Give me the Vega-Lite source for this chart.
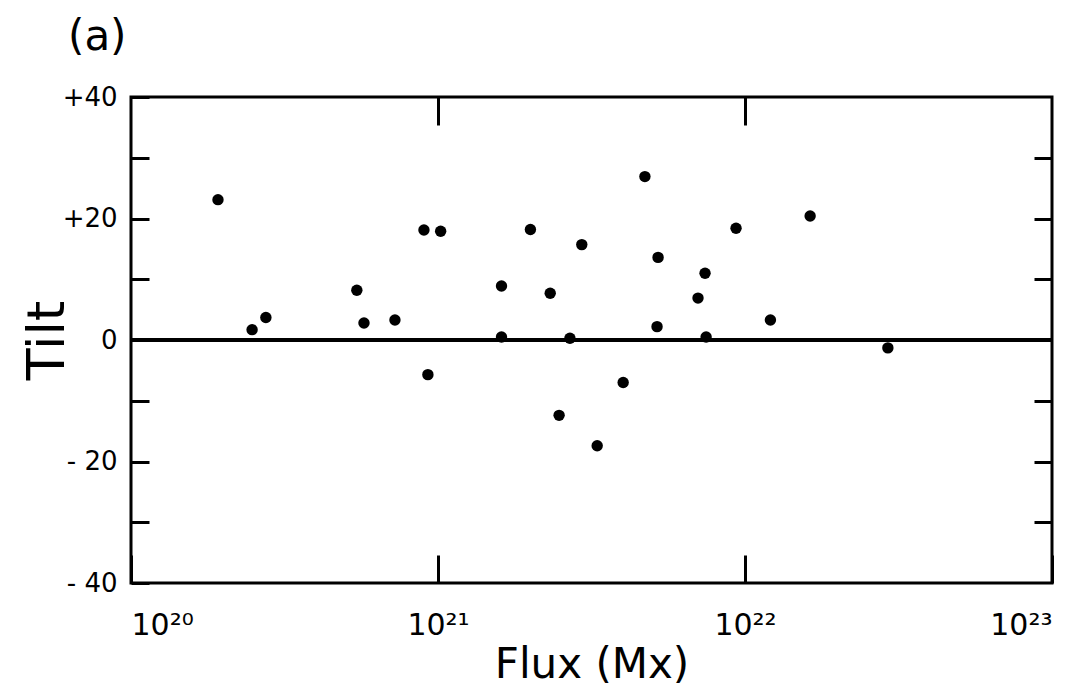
{
  "$schema": "https://vega.github.io/schema/vega-lite/v6.json",
  "width": 921,
  "height": 486,
  "autosize": "none",
  "padding": {"left": 131, "top": 97, "right": 40, "bottom": 109},
  "background": "white",
  "config": {
    "view": {"stroke": "black", "strokeWidth": 3},
    "font": "DejaVu Sans",
    "axis": {"grid": false, "domain": false, "tickColor": "black", "tickWidth": 3, "labelColor": "black", "titleColor": "black", "labelFont": "DejaVu Sans", "titleFont": "DejaVu Sans", "titleFontWeight": "normal"}
  },
  "title": {"text": "(a)", "anchor": "start", "frame": "group", "dx": -63, "dy": 14, "offset": 6, "fontSize": 42, "fontWeight": "normal", "color": "black", "baseline": "alphabetic", "font": "DejaVu Sans"},
  "data": {"values": [
    {"flux": 1.92e20, "tilt": 23.1},
    {"flux": 2.48e20, "tilt": 1.7},
    {"flux": 2.75e20, "tilt": 3.7},
    {"flux": 5.44e20, "tilt": 8.2},
    {"flux": 5.74e20, "tilt": 2.8},
    {"flux": 7.24e20, "tilt": 3.3},
    {"flux": 9.0e20, "tilt": 18.1},
    {"flux": 1.02e21, "tilt": 17.9},
    {"flux": 9.27e20, "tilt": -5.7},
    {"flux": 1.61e21, "tilt": 8.9},
    {"flux": 1.61e21, "tilt": 0.5},
    {"flux": 2.0e21, "tilt": 18.2},
    {"flux": 2.32e21, "tilt": 7.7},
    {"flux": 2.48e21, "tilt": -12.4},
    {"flux": 2.69e21, "tilt": 0.3},
    {"flux": 2.94e21, "tilt": 15.7},
    {"flux": 3.30e21, "tilt": -17.4},
    {"flux": 4.01e21, "tilt": -7.0},
    {"flux": 4.72e21, "tilt": 26.9},
    {"flux": 5.21e21, "tilt": 13.6},
    {"flux": 5.17e21, "tilt": 2.2},
    {"flux": 7.03e21, "tilt": 6.9},
    {"flux": 7.41e21, "tilt": 11.0},
    {"flux": 7.47e21, "tilt": 0.5},
    {"flux": 9.35e21, "tilt": 18.4},
    {"flux": 1.21e22, "tilt": 3.3},
    {"flux": 1.63e22, "tilt": 20.4},
    {"flux": 2.92e22, "tilt": -1.3}
  ]},
  "layer": [
    {
      "mark": {"type": "rule", "color": "black", "strokeWidth": 3},
      "encoding": {
        "x": {"datum": 1e20, "type": "quantitative", "scale": {"type": "log", "domain": [1e20, 1e23]},
              "axis": {"orient": "top", "values": [1e21, 1e22], "labels": false, "title": null, "tickSize": -28}},
        "x2": {"datum": 1e23},
        "y": {"datum": 0, "type": "quantitative", "scale": {"domain": [-40, 40]},
              "axis": {"orient": "right", "values": [-30, -20, -10, 10, 20, 30], "labels": false, "title": null, "tickSize": -18}}
      }
    },
    {
      "mark": {"type": "circle", "color": "black", "opacity": 1, "size": 130},
      "encoding": {
        "x": {"field": "flux", "type": "quantitative", "scale": {"type": "log", "domain": [1e20, 1e23]},
              "axis": {"orient": "bottom", "values": [1e20, 1e21, 1e22, 1e23], "tickSize": -28, "labelPadding": 55, "labelFontSize": 30,
                       "labelExpr": "datum.value < 5e20 ? '10²⁰' : datum.value < 5e21 ? '10²¹' : datum.value < 5e22 ? '10²²' : '10²³'",
                       "title": "Flux (Mx)", "titleFontSize": 42, "titlePadding": 4}},
        "y": {"field": "tilt", "type": "quantitative", "scale": {"domain": [-40, 40]},
              "axis": {"orient": "left", "values": [-40, -30, -20, -10, 0, 10, 20, 30, 40], "tickSize": -18, "labelPadding": 32, "labelFontSize": 26,
                       "labelExpr": "datum.value == 0 ? '0' : datum.value % 20 != 0 ? '' : datum.value > 0 ? '+' + datum.value : '- ' + abs(datum.value)",
                       "title": "Tilt", "titleFontSize": 52, "titlePadding": -12}}
      }
    }
  ],
  "resolve": {"axis": {"x": "independent", "y": "independent"}}
}
